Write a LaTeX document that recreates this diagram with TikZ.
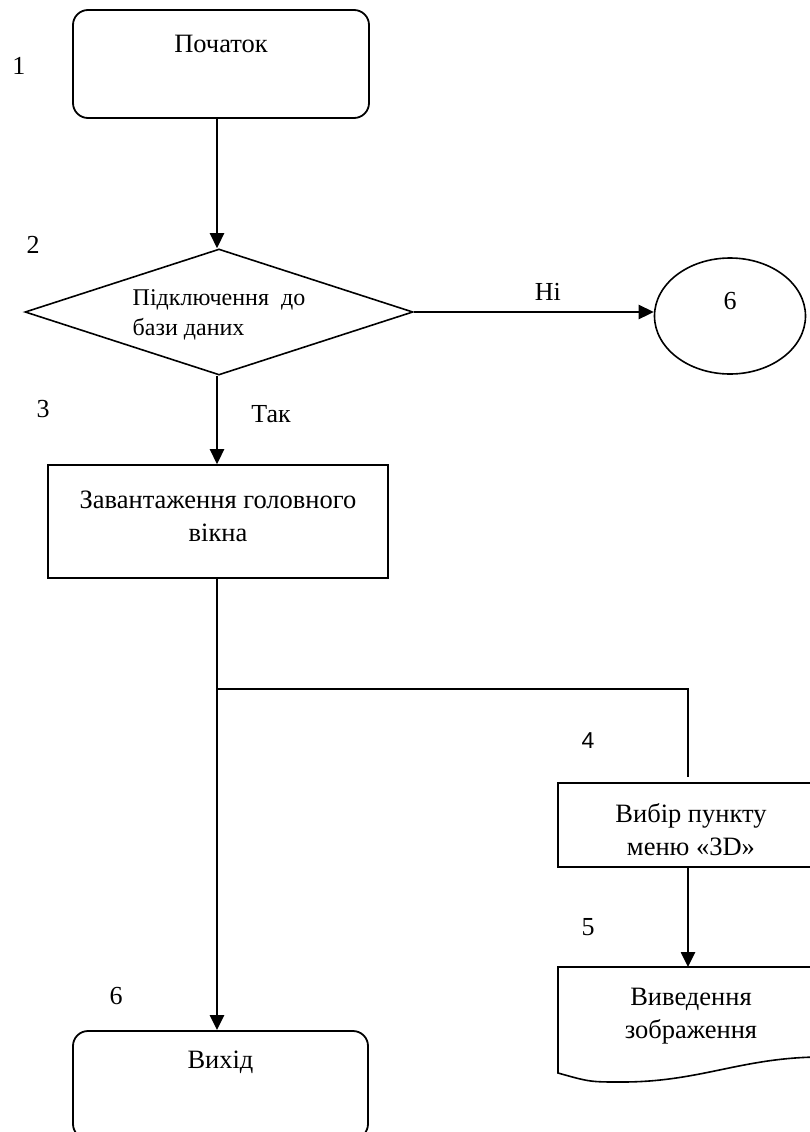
\documentclass[tikz,border=0pt]{standalone}
\usepackage{fontspec}
\setmainfont{Liberation Serif}
\newfontfamily\arialf{Liberation Sans}
\usetikzlibrary{arrows.meta,shapes.geometric}
\begin{document}
\begin{tikzpicture}[x=1pt,y=-1pt,
  conn/.style={line width=2.6pt,-{Triangle[length=15pt,width=14pt]}},
  plainline/.style={line width=2.6pt},
  term/.style={draw,line width=1.8pt,rounded corners=15pt,inner sep=0},
  proc/.style={draw,line width=1.6pt,inner sep=0},
  txt/.style={font=\fontsize{26.5}{33}\selectfont,align=center,inner sep=0},
  smalltxt/.style={font=\fontsize{24}{30}\selectfont,align=left,inner sep=0},
  num/.style={font=\fontsize{26}{28}\selectfont,inner sep=0}]
\useasboundingbox (0,0) rectangle (810,1132);
\coordinate (sp) at (217,0);
% start
\node[term,minimum width=296pt,minimum height=108pt] (start) at (221,64) {};
\node[txt] (starttxt) at (221,44) {Початок};
\node[num] (n1) at (19,66) {1};
% decision
\node[draw,diamond,aspect=3.08,minimum width=388pt,minimum height=126pt,inner sep=0,line width=1.6pt] (dec) at (219,312) {};
\node[smalltxt] (dectxt) at (219,315) {Підключення\ \ до\\бази даних};
\node[num] (n2) at (33,245) {2};
% circle
\node[draw,ellipse,minimum width=151pt,minimum height=116pt,inner sep=0,line width=1.6pt] (c6) at (730,316) {};
\node[num] (c6txt) at (730,301) {6};
% box 3
\node[proc,minimum width=340pt,minimum height=113pt] (load) at (218,521.5) {};
\node[txt] (loadtxt) at (218,516.5) {Завантаження головного\\вікна};
\node[num] (n3) at (43,409) {3};
% box 4
\node[proc,minimum width=260pt,minimum height=84pt] (menu) at (688,825) {};
\node[txt] (menutxt) at (691,830) {Вибір пункту\\меню «3D»};
\node[num,font=\arialf\fontsize{23}{25}\selectfont] (n4) at (588,741) {4};
% document
\coordinate (doctop) at (688,967);
\draw[line width=1.6pt] (558,967) -- (818,967) -- (818,1057)
  .. controls (740,1058) and (700,1082) .. (622,1082)
  .. controls (590,1082) .. (558,1073) -- cycle;
\node[txt] (outtxt) at (691,1016.5) {Виведення\\зображення};
\node[num] (n5) at (588,927) {5};
% exit
\node[term,minimum width=295pt,minimum height=108pt] (exit) at (220.5,1085) {};
\node[txt] (exittxt) at (220.5,1062) {Вихід};
\node[num] (n6) at (116,996) {6};
% connectors
\draw[conn] (start.south -| sp) -- (dec.north -| sp);
\draw[conn] (dec.east) -- node[above=10pt,num,xshift=14pt] {Ні} (dec.east -| c6.west);
\draw[conn] (dec.south -| sp) -- node[right=33pt,num,yshift=6pt] {Так} (load.north -| sp);
\draw[conn] (load.south -| sp) -- (exit.north -| sp);
\coordinate (br) at (217,689);
\draw[plainline] (br) -- (br -| menu.north) -- ([yshift=5pt]menu.north);
\draw[conn] (menu.south) -- (doctop);
\end{tikzpicture}
\end{document}
